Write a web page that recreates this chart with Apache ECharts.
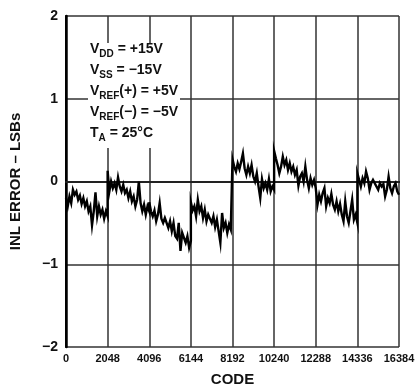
<!DOCTYPE html>
<html>
<head>
<meta charset="utf-8">
<script src="https://cdn.jsdelivr.net/npm/echarts@6/dist/echarts.min.js"></script>
<style>html,body{margin:0;padding:0;background:#fff}#c{width:418px;height:392px}</style>
</head>
<body>
<div id="c"></div>
<script>
// Segment start codes (each major carry segment spans 2048 codes)
var segmentStarts = [0, 2048, 4096, 6144, 8192, 10240, 12288, 14336];
var segmentLength = 2048;
// INL error (LSBs), 25 samples across each segment
var seg0 = [-0.2,-0.3,-0.18,-0.26,-0.1,-0.16,-0.12,-0.22,-0.17,-0.27,-0.2,-0.3,-0.24,-0.36,-0.3,-0.53,-0.36,-0.13,-0.42,-0.3,-0.4,-0.34,-0.45,-0.36,-0.42];
var seg1 = [0.13,-0.12,0.0,-0.08,-0.02,-0.1,0.05,-0.06,-0.12,-0.04,-0.14,-0.1,-0.2,-0.12,-0.24,-0.18,-0.3,-0.22,0.0,-0.26,-0.36,-0.28,-0.4,-0.3,-0.36];
var seg2 = [-0.25,-0.36,-0.42,-0.35,-0.48,-0.4,-0.26,-0.45,-0.5,-0.44,-0.43,-0.56,-0.48,-0.6,-0.5,-0.66,-0.69,-0.5,-0.84,-0.62,-0.6,-0.74,-0.66,-0.8,-0.72];
var seg3 = [-0.25,-0.35,-0.3,-0.42,-0.22,-0.36,-0.3,-0.44,-0.34,-0.48,-0.4,-0.38,-0.5,-0.42,-0.55,-0.46,-0.6,-0.74,-0.38,-0.56,-0.5,-0.62,-0.52,-0.58,-0.56];
var seg4 = [0.27,0.18,0.12,0.22,0.15,0.24,0.34,0.16,0.08,0.18,0.1,0.2,0.06,0.0,0.1,-0.06,-0.2,0.03,-0.08,-0.02,-0.1,0.03,-0.12,-0.06,-0.1];
var seg5 = [0.37,0.28,0.2,0.1,0.18,0.3,0.2,0.26,0.14,0.22,0.12,0.18,0.08,0.14,-0.05,0.06,0.1,0.0,0.18,0.02,-0.08,0.04,-0.04,0.02,-0.08];
var seg6 = [-0.08,-0.28,-0.16,-0.24,-0.14,-0.08,-0.3,-0.2,-0.26,-0.15,-0.28,-0.34,-0.24,-0.36,-0.27,-0.4,-0.48,-0.24,-0.42,-0.5,-0.36,-0.22,-0.46,-0.4,-0.5];
var seg7 = [0.1,0.02,-0.06,0.04,-0.02,0.12,0.04,-0.1,-0.02,0.02,0.03,-0.06,-0.1,-0.02,-0.06,-0.03,-0.18,-0.1,0.06,-0.08,-0.14,-0.06,-0.02,-0.12,-0.16];
var segments = [seg0, seg1, seg2, seg3, seg4, seg5, seg6, seg7];
// Axis ticks
var xTicks = [0, 2048, 4096, 6144, 8192, 10240, 12288, 14336, 16384];
var yTicks = [-2, -1, 0, 1, 2];
var conditions = [
  ['V', 'DD', ' = +15V'],
  ['V', 'SS', ' = \u221215V'],
  ['V', 'REF', '(+) = +5V'],
  ['V', 'REF', '(\u2212) = \u22125V'],
  ['T', 'A', ' = 25\u00B0C']
];

var data = [];
segments.forEach(function (seg, s) {
  var n = seg.length - 1;
  seg.forEach(function (v, i) {
    data.push([segmentStarts[s] + i * segmentLength / n, v]);
  });
});

var FONT = '"Liberation Sans", Arial, Helvetica, sans-serif';
var condText = conditions.map(function (c) {
  return '{m|' + c[0] + '}{s|' + c[1] + '}{m|' + c[2] + '}';
}).join('\n');

var chart = echarts.init(document.getElementById('c'), null, {renderer: 'canvas'});
chart.setOption({
  animation: false,
  backgroundColor: '#fff',
  grid: {left: 61, right: 19, top: 16, bottom: 40, show: false},
  xAxis: [{
    type: 'value', min: xTicks[0], max: xTicks[xTicks.length - 1], interval: 2048,
    name: 'CODE', nameLocation: 'middle', nameGap: 25,
    nameTextStyle: {fontFamily: FONT, fontWeight: 'bold', fontSize: 15, color: '#111'},
    axisLine: {show: true, lineStyle: {color: '#000', width: 2}},
    axisTick: {show: false},
    axisLabel: {fontFamily: FONT, fontWeight: 'bold', fontSize: 11, color: '#111', margin: 6,
      formatter: function (v) { return String(v); }},
    splitLine: {show: true, lineStyle: {color: '#333', width: 1.5}}
  }, {
    type: 'value', position: 'top', min: xTicks[0], max: xTicks[xTicks.length - 1],
    axisLine: {show: true, lineStyle: {color: '#222', width: 2}},
    axisTick: {show: false}, axisLabel: {show: false}, splitLine: {show: false}
  }],
  yAxis: [{
    type: 'value', min: yTicks[0], max: yTicks[yTicks.length - 1], interval: 1,
    name: 'INL ERROR \u2013 LSBs', nameLocation: 'middle', nameGap: 43,
    nameTextStyle: {fontFamily: FONT, fontWeight: 'bold', fontSize: 15, color: '#111'},
    axisLine: {show: true, lineStyle: {color: '#000', width: 2}},
    axisTick: {show: false},
    axisLabel: {fontFamily: FONT, fontWeight: 'bold', fontSize: 14, color: '#111', margin: 8,
      formatter: function (v) { return v < 0 ? '\u2212' + Math.abs(v) : String(v); }},
    splitLine: {show: true, lineStyle: {color: '#333', width: 1.5}}
  }, {
    type: 'value', position: 'right', min: yTicks[0], max: yTicks[yTicks.length - 1],
    axisLine: {show: true, lineStyle: {color: '#000', width: 2.5}},
    axisTick: {show: false}, axisLabel: {show: false}, splitLine: {show: false}
  }],
  series: [{
    type: 'line', xAxisIndex: 0, yAxisIndex: 0, data: data,
    showSymbol: false, smooth: false,
    lineStyle: {color: '#000', width: 2.4, join: 'miter'}, z: 3
  }],
  graphic: [{
    type: 'rect', z: 100, left: 88, top: 43,
    shape: {width: 92, height: 105},
    style: {fill: '#fff'}
  }, {
    type: 'text', z: 101, left: 90, top: 42,
    style: {
      text: condText,
      fill: '#111',
      rich: {
        m: {fontFamily: FONT, fontWeight: 'bold', fontSize: 14, lineHeight: 21, fill: '#111'},
        s: {fontFamily: FONT, fontWeight: 'bold', fontSize: 10, lineHeight: 12, verticalAlign: 'bottom', fill: '#111'}
      }
    }
  }]
});
</script>
</body>
</html>
